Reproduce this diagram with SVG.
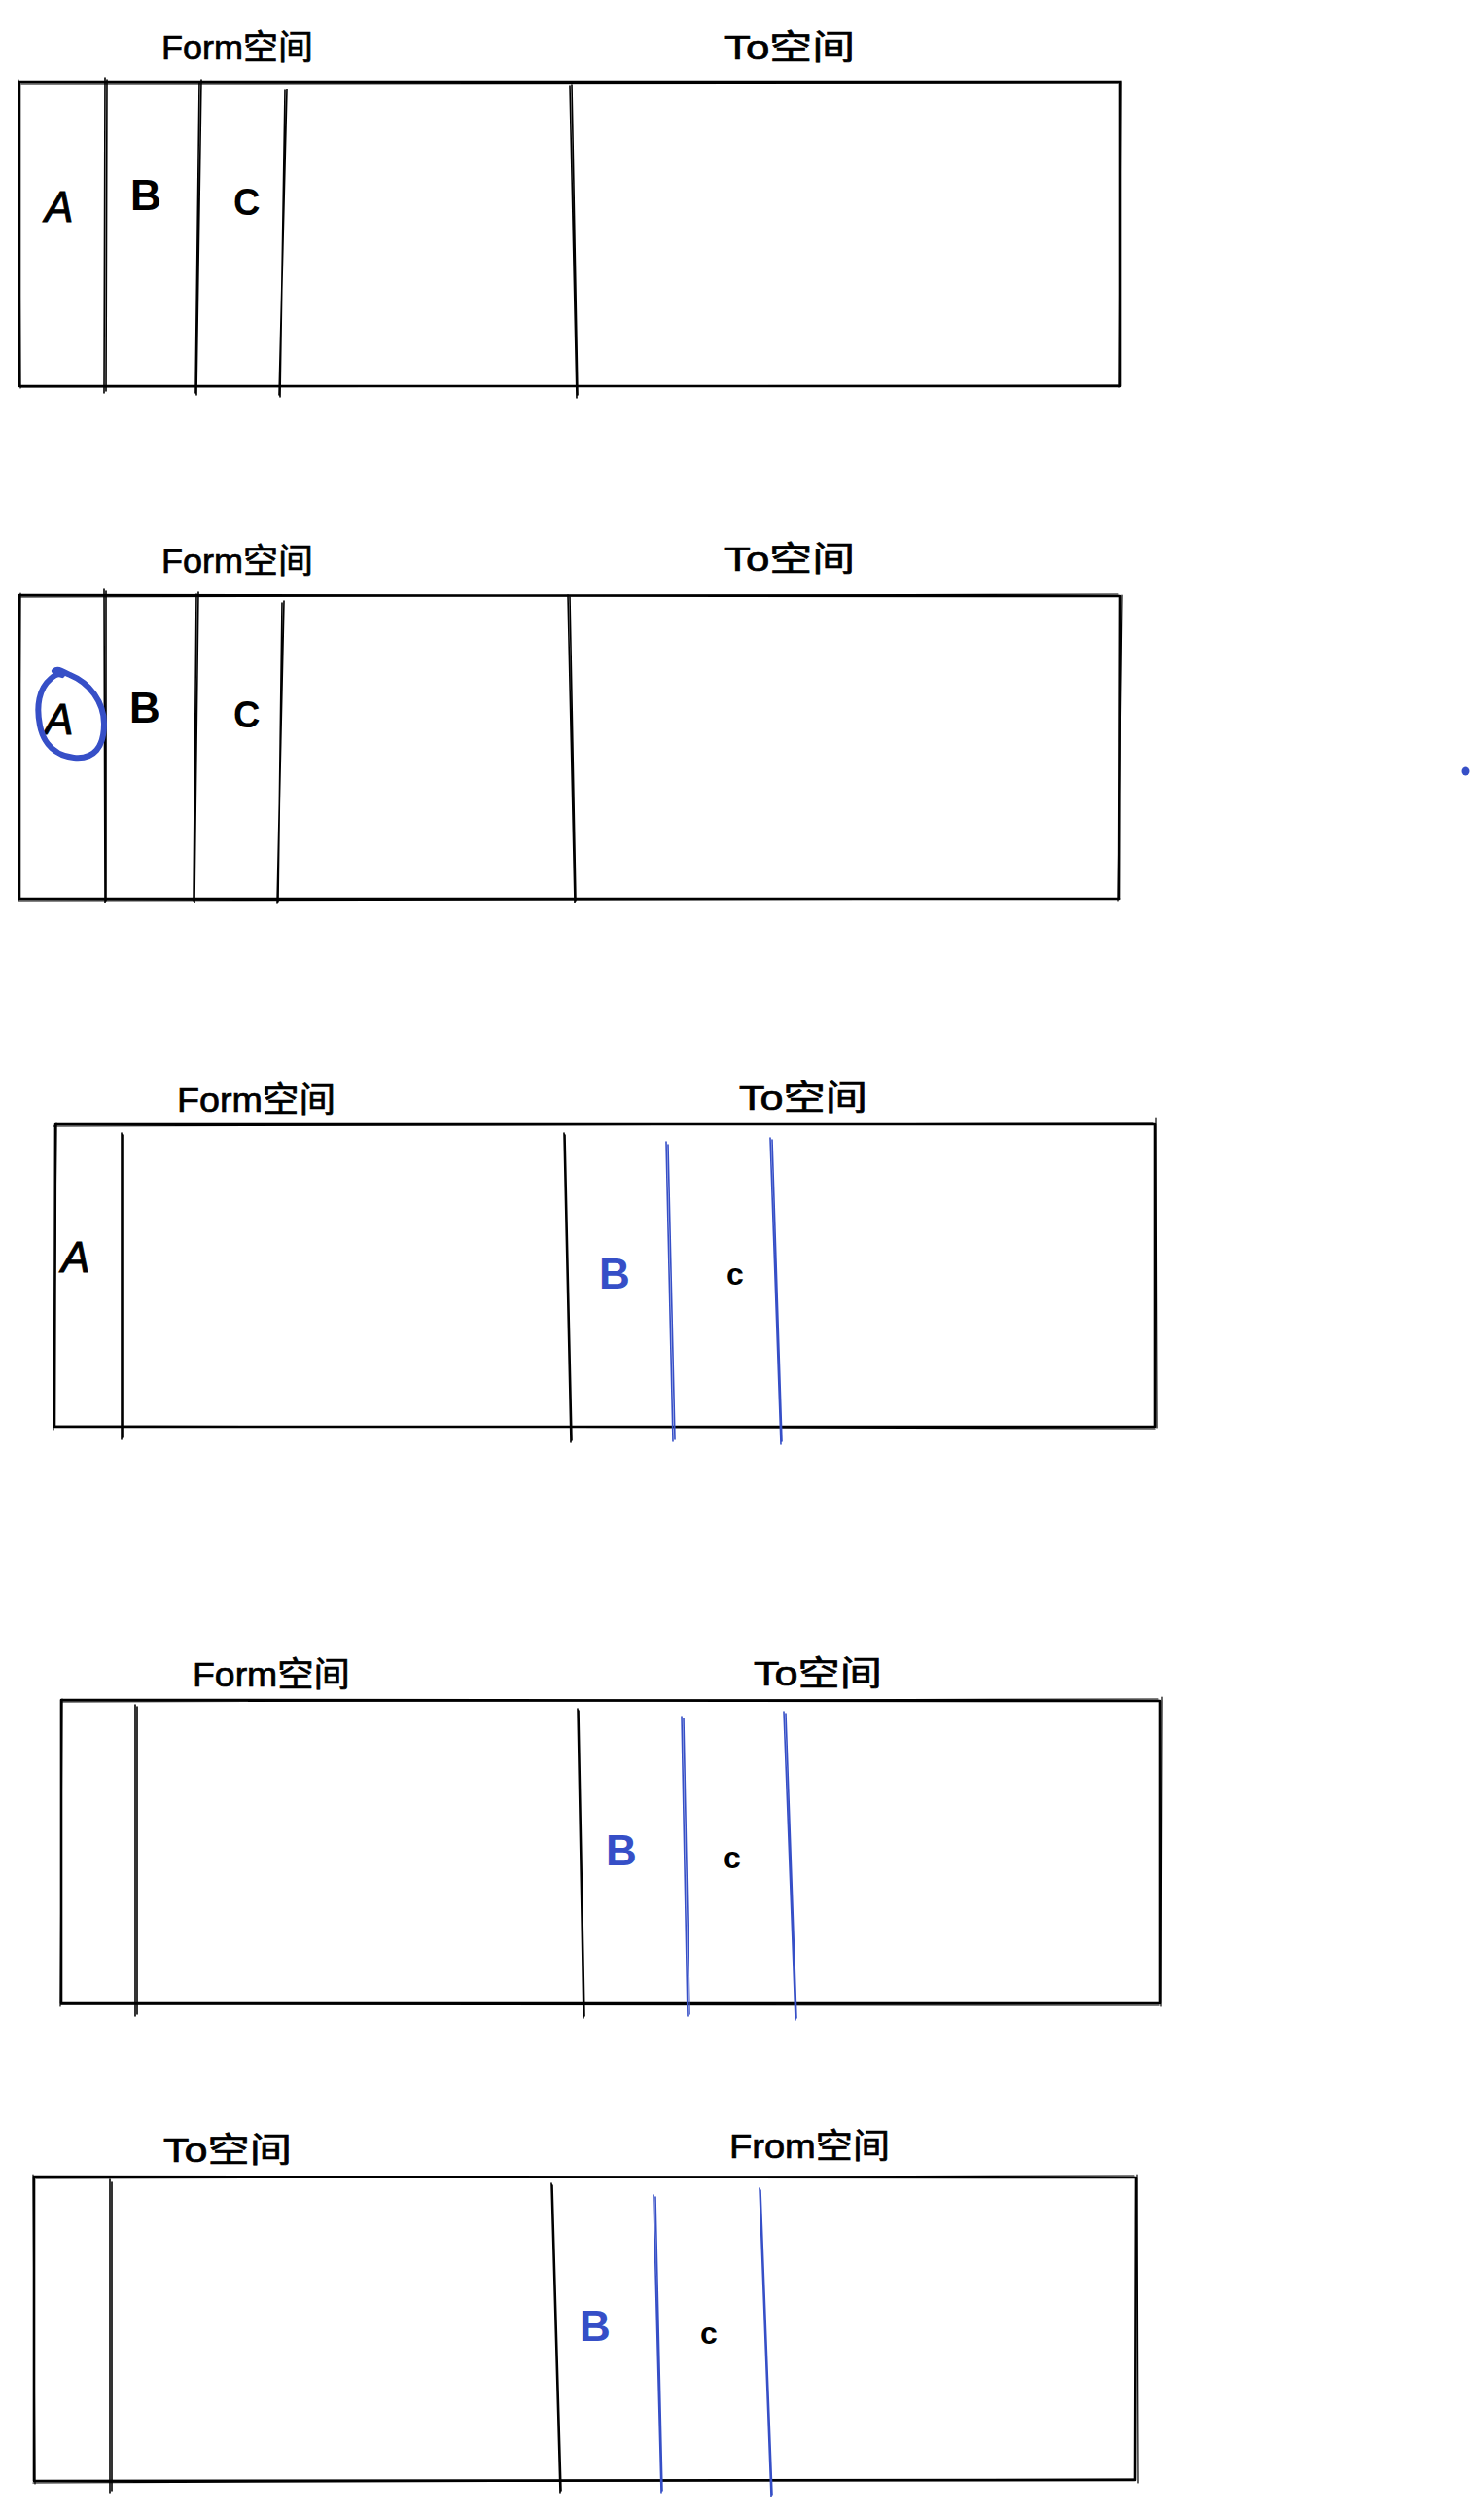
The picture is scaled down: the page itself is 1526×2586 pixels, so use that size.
<svg xmlns="http://www.w3.org/2000/svg" width="1526" height="2586" viewBox="0 0 1526 2586">
<style>
.bg{fill:#ffffff}
.r{fill:none;stroke:#000;stroke-width:2.6;stroke-linecap:round;stroke-linejoin:round}
.r2{fill:none;stroke:#000;stroke-width:1.2;stroke-linecap:round;stroke-linejoin:round}
.v{fill:none;stroke:#000;stroke-width:1.6;stroke-linecap:round}
.vb{fill:none;stroke:#364fc7;stroke-width:1.6;stroke-linecap:round}
.h{font-family:"Liberation Sans","Noto Sans CJK SC",sans-serif;font-size:35px;fill:#000;stroke:#000;stroke-width:0.7}
.l{font-family:"Liberation Sans","Noto Sans CJK SC",sans-serif;font-size:44px;font-weight:bold;fill:#000}
.lc{font-family:"Liberation Sans","Noto Sans CJK SC",sans-serif;font-size:38px;font-weight:bold;fill:#000}
.ls{font-family:"Liberation Sans","Noto Sans CJK SC",sans-serif;font-size:32px;font-weight:bold;fill:#000}
.it{font-style:italic;font-weight:normal;stroke:#000;stroke-width:1}
.blue{fill:#364fc7}
</style>
<rect class="bg" x="0" y="0" width="1526" height="2586"/>

<g id="panel1">
  <text class="h" x="166" y="61" textLength="156" lengthAdjust="spacingAndGlyphs">Form空间</text>
  <text class="h" x="745" y="61" textLength="134" lengthAdjust="spacingAndGlyphs">To空间</text>
  <path class="r" d="M20 84 L1152 84 L1152 397 L20 397 Z"/>
  <path class="r2" d="M22 86 L1150 85 M1153 83 L1151 398 M1150 396 L21 398 M19 82 L21 399"/>
  <g id="p1-lines">
    <path class="v" d="M108 80 L107 404 M110 82 L109 402"/>
    <path class="v" d="M207 82 L202 406 M205 84 L201 404"/>
    <path class="v" d="M295 92 L287 406 M293 93 L288 408"/>
    <path class="v" d="M586 88 L593 409 M588 87 L594 406"/>
  </g>
  <text class="l it" x="46" y="228">A</text>
  <text class="l" x="134" y="216">B</text>
  <text class="lc" x="240" y="221">C</text>
</g>

<g id="panel2">
  <text class="h" x="166" y="589" textLength="156" lengthAdjust="spacingAndGlyphs">Form空间</text>
  <text class="h" x="745" y="587" textLength="134" lengthAdjust="spacingAndGlyphs">To空间</text>
  <path class="r" d="M20 612 L1152 613 L1151 924 L20 924 Z"/>
  <path class="r2" d="M22 614 L1150 611 M1154 612 L1150 926 M1152 924 L19 926 M21 610 L19 925"/>
  <g id="p2-lines">
    <path class="v" d="M107 606 L108 928 M109 608 L109 926"/>
    <path class="v" d="M204 609 L200 928 M202 611 L199 926"/>
    <path class="v" d="M292 618 L285 929 M290 620 L286 927"/>
    <path class="v" d="M584 612 L591 928 M586 614 L592 926"/>
  </g>
  <text class="l it" x="46" y="755">A</text>
  <text class="l" x="133" y="743">B</text>
  <text class="lc" x="240" y="748">C</text>
  <path id="circle-A" d="M56 690 C60 686 66 692 72 694 C92 702 107 722 107 744 C107 768 97 781 76 779 C58 777 45 766 41 746 C37 726 40 708 52 698 C56 694 60 692 64 694" fill="none" stroke="#364fc7" stroke-width="6" stroke-linecap="round" stroke-linejoin="round"/>
</g>

<circle id="dot" cx="1507" cy="793" r="4.5" fill="#364fc7"/>

<g id="panel3">
  <text class="h" x="182" y="1143" textLength="163" lengthAdjust="spacingAndGlyphs">Form空间</text>
  <text class="h" x="760" y="1141" textLength="132" lengthAdjust="spacingAndGlyphs">To空间</text>
  <path class="r" d="M57 1156 L1188 1156 L1188 1467 L56 1467 Z"/>
  <path class="r2" d="M55 1158 L1186 1155 M1189 1150 L1190 1468 M1188 1469 L55 1466 M58 1155 L55 1470"/>
  <g id="p3-lines">
    <path class="v" d="M125 1165 L125 1480 M126 1167 L126 1478"/>
    <path class="v" d="M580 1165 L587 1483 M581 1167 L588 1481"/>
  </g>
  <g id="p3-blue">
    <path class="vb" d="M685 1174 L692 1482 M687 1177 L694 1480"/>
    <path class="vb" d="M792 1170 L803 1485 M794 1172 L804 1482"/>
  </g>
  <text class="l it" x="63" y="1308">A</text>
  <text class="l blue" x="616" y="1325">B</text>
  <text class="ls" x="747" y="1321">c</text>
</g>

<g id="panel4">
  <text class="h" x="198" y="1734" textLength="162" lengthAdjust="spacingAndGlyphs">Form空间</text>
  <text class="h" x="775" y="1733" textLength="132" lengthAdjust="spacingAndGlyphs">To空间</text>
  <path class="r" d="M63 1748 L1193 1749 L1193 2060 L63 2060 Z"/>
  <path class="r2" d="M65 1750 L1191 1747 M1195 1745 L1194 2063 M1192 2062 L62 2061 M64 1747 L62 2063"/>
  <g id="p4-lines">
    <path class="v" d="M139 1753 L139 2073 M141 1755 L141 2071"/>
    <path class="v" d="M594 1757 L600 2075 M595 1759 L601 2073"/>
  </g>
  <g id="p4-blue">
    <path class="vb" d="M701 1765 L707 2073 M703 1767 L709 2071"/>
    <path class="vb" d="M806 1760 L818 2077 M808 1762 L819 2075"/>
  </g>
  <text class="l blue" x="623" y="1918">B</text>
  <text class="ls" x="744" y="1921">c</text>
</g>

<g id="panel5">
  <text class="h" x="168" y="2223" textLength="132" lengthAdjust="spacingAndGlyphs">To空间</text>
  <text class="h" x="750" y="2219" textLength="165" lengthAdjust="spacingAndGlyphs">From空间</text>
  <path class="r" d="M35 2238 L1168 2239 L1167 2550 L35 2551 Z"/>
  <path class="r2" d="M37 2240 L1166 2237 M1169 2236 L1170 2553 M1166 2549 L34 2553 M34 2236 L36 2554"/>
  <g id="p5-lines">
    <path class="v" d="M113 2241 L113 2563 M115 2244 L115 2561"/>
    <path class="v" d="M567 2245 L576 2563 M568 2247 L577 2561"/>
  </g>
  <g id="p5-blue">
    <path class="vb" d="M672 2257 L680 2563 M674 2259 L681 2561"/>
    <path class="vb" d="M781 2250 L793 2567 M782 2252 L794 2565"/>
  </g>
  <text class="l blue" x="596" y="2407">B</text>
  <text class="ls" x="720" y="2410">c</text>
</g>
</svg>
